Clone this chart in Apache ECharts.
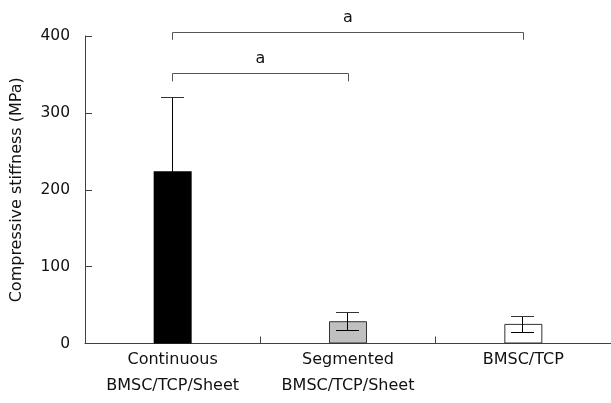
<!DOCTYPE html>
<html><head><meta charset="utf-8">
<script src="https://cdn.jsdelivr.net/npm/echarts@6/dist/echarts.min.js"></script>
<style>html,body{margin:0;padding:0;background:#fff}#c{width:611px;height:403px}</style>
</head><body><div id="c"></div>
<script>
var categories = ['Continuous\nBMSC/TCP/Sheet', 'Segmented\nBMSC/TCP/Sheet', 'BMSC/TCP'];
var means = [224, 29, 25.5];
var errors = [97, 11.5, 10];
var barColors = ['#000000', '#c0c0c0', '#ffffff'];
var yTicks = [0, 100, 200, 300, 400];
// significance brackets: [fromIndex, toIndex, top value, foot value, label]
var brackets = [[0, 2, 405, 395, 'a'], [0, 1, 352, 341, 'a']];

var FONT = 'DejaVu Sans';
var chart = echarts.init(document.getElementById('c'));
chart.setOption({
  animation: false,
  grid: {left: 85, right: 0, top: 36, bottom: 59.5},
  xAxis: {
    type: 'category', data: categories,
    axisLine: {lineStyle: {color: '#404040', width: 1}},
    axisTick: {show: true, inside: true, length: 7, alignWithLabel: false, lineStyle: {color: '#404040'}},
    axisLabel: {color: '#111', fontFamily: FONT, fontSize: 16, lineHeight: 26, margin: 3, interval: 0}
  },
  yAxis: {
    type: 'value', min: 0, max: 400, interval: 100,
    name: 'Compressive stiffness (MPa)', nameLocation: 'middle', nameGap: 60, nameRotate: 90,
    nameTextStyle: {color: '#111', fontFamily: FONT, fontSize: 16},
    axisLine: {show: true, lineStyle: {color: '#404040', width: 1}},
    axisTick: {show: true, inside: true, length: 7, lineStyle: {color: '#404040'}},
    axisLabel: {color: '#111', fontFamily: FONT, fontSize: 15.5, margin: 15,
      formatter: function (v) { return yTicks.indexOf(v) >= 0 ? String(v) : ''; }},
    splitLine: {show: false}
  },
  series: [
    {
      type: 'bar', barWidth: 38,
      data: means.map(function (v, i) {
        return {value: v, itemStyle: {color: barColors[i], borderColor: '#333', borderWidth: i === 0 ? 0 : 1}};
      })
    },
    {
      type: 'custom', clip: false, z: 5,
      data: means.map(function (v, i) { return [i, v - errors[i], v + errors[i]]; }),
      renderItem: function (params, api) {
        var lo = api.coord([api.value(0), api.value(1)]);
        var hi = api.coord([api.value(0), api.value(2)]);
        var x = Math.round(lo[0]) - 0.5;
        var hw = 11.5;
        var st = {stroke: '#000', lineWidth: 1};
        return {type: 'group', children: [
          {type: 'line', shape: {x1: x, y1: Math.round(lo[1]) + 0.5, x2: x, y2: Math.round(hi[1]) + 0.5}, style: st},
          {type: 'line', shape: {x1: x - hw, y1: Math.round(hi[1]) + 0.5, x2: x + hw, y2: Math.round(hi[1]) + 0.5}, style: {stroke: '#333', lineWidth: 1}},
          {type: 'line', shape: {x1: x - hw, y1: Math.round(lo[1]) + 0.5, x2: x + hw, y2: Math.round(lo[1]) + 0.5}, style: st}
        ]};
      }
    },
    {
      type: 'custom', clip: false, z: 5,
      data: brackets,
      renderItem: function (params, api) {
        var a = api.coord([api.value(0), api.value(2)]);
        var b = api.coord([api.value(1), api.value(2)]);
        var f = api.coord([api.value(0), api.value(3)]);
        var y = Math.round(a[1]) + 0.5;
        var x1 = Math.round(a[0]) - 0.5, x2 = Math.round(b[0]) + 0.5;
        var st = {stroke: '#555', lineWidth: 1, fill: null};
        return {type: 'group', children: [
          {type: 'polyline', shape: {points: [[x1, f[1]], [x1, y], [x2, y], [x2, f[1]]]}, style: st},
          {type: 'text', style: {text: brackets[params.dataIndex][4], x: (x1 + x2) / 2, y: y - 15,
            align: 'center', verticalAlign: 'middle', fill: '#111', font: '16px "DejaVu Sans"'}}
        ]};
      }
    }
  ]
});
</script>
</body></html>
